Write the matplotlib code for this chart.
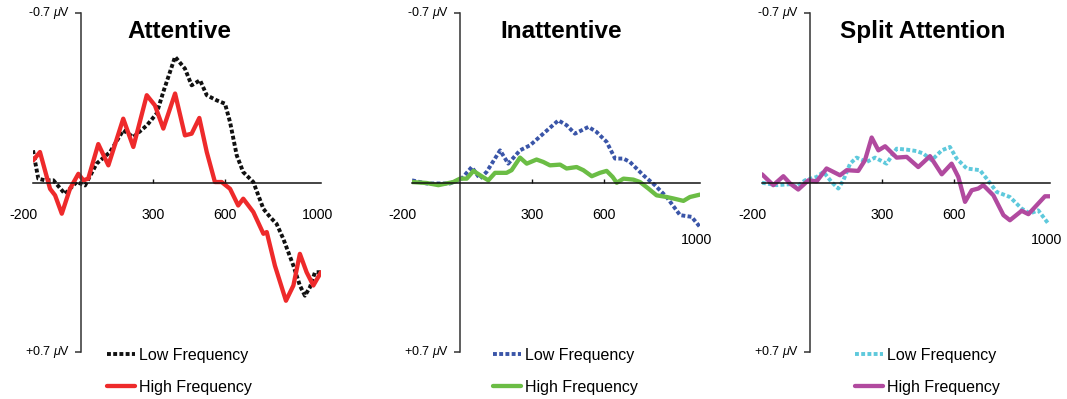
import matplotlib
matplotlib.use("Agg")
import matplotlib.pyplot as plt

plt.rcParams['font.family'] = ['Liberation Sans', 'DejaVu Sans']
plt.rcParams['mathtext.fontset'] = 'custom'
plt.rcParams['mathtext.it'] = 'Liberation Sans:italic'
plt.rcParams['mathtext.rm'] = 'Liberation Sans'

# ERP waveforms, time in ms, amplitude in microvolts (negative up)
att_low_t = [-200, -178, -150, -115, -67, -18, 17, 65, 121, 176, 218, 274, 315, 343, 392, 433, 461, 496,
             524, 565, 600, 621, 649, 676, 718, 760, 788, 815, 843, 885, 912, 933, 954, 975, 1000]
att_low_v = [-0.134, -0.017, -0.01, -0.01, 0.046, -0.003, 0.011, -0.079, -0.127, -0.217, -0.189, -0.237,
             -0.286, -0.376, -0.521, -0.472, -0.403, -0.424, -0.362, -0.341, -0.327, -0.251, -0.113, -0.044,
             -0.003, 0.108, 0.142, 0.17, 0.232, 0.343, 0.425, 0.467, 0.432, 0.37, 0.37]
att_high_t = [-200, -171, -129, -108, -80, -46, -11, 10, 30, 72, 114, 176, 218, 274, 308, 343, 392, 433,
              461, 493, 524, 558, 586, 621, 655, 676, 718, 760, 774, 808, 854, 885, 912, 940, 968, 1000]
att_high_v = [-0.092, -0.127, 0.025, 0.052, 0.128, 0.025, -0.037, -0.01, -0.017, -0.16, -0.072, -0.265,
              -0.148, -0.362, -0.32, -0.224, -0.369, -0.196, -0.203, -0.268, -0.127, -0.003, -0.003, 0.025,
              0.094, 0.066, 0.121, 0.211, 0.204, 0.343, 0.488, 0.425, 0.294, 0.37, 0.425, 0.37]

inatt_low_t = [-200, -139, -42, 7, 49, 83, 111, 167, 201, 250, 292, 347, 410, 444, 479, 535, 569, 611,
               646, 681, 708, 764, 812, 861, 917, 965, 1000]
inatt_low_v = [-0.01, 0.003, 0.003, -0.017, -0.065, -0.017, -0.045, -0.134, -0.079, -0.134, -0.155, -0.203,
               -0.258, -0.238, -0.203, -0.231, -0.21, -0.169, -0.1, -0.1, -0.086, -0.031, 0.01, 0.059,
               0.134, 0.141, 0.183]
inatt_high_t = [-200, -139, -90, -28, 0, 28, 56, 90, 118, 146, 194, 215, 250, 278, 319, 347, 375, 417, 444,
                486, 514, 549, 583, 611, 636, 653, 681, 722, 750, 785, 819, 861, 889, 931, 958, 1000]
inatt_high_v = [-0.003, 0.001, 0.01, -0.003, -0.017, -0.017, -0.049, -0.027, -0.01, -0.041, -0.041, -0.052,
                -0.104, -0.079, -0.096, -0.086, -0.072, -0.075, -0.059, -0.065, -0.052, -0.027, -0.041,
                -0.049, -0.024, 0.0, -0.017, -0.013, -0.003, 0.024, 0.052, 0.059, 0.065, 0.075, 0.059, 0.049]

split_low_t = [-200, -139, -83, -56, -21, 28, 56, 90, 118, 139, 167, 194, 236, 271, 319, 361, 403, 444, 472,
               507, 549, 583, 611, 653, 708, 736, 778, 833, 882, 917, 951, 993]
split_low_v = [0.0, 0.01, 0.006, 0.017, -0.01, -0.024, -0.045, -0.003, 0.024, -0.01, -0.079, -0.104, -0.086,
               -0.104, -0.079, -0.141, -0.137, -0.131, -0.121, -0.093, -0.134, -0.148, -0.1, -0.059, -0.052,
               -0.017, 0.038, 0.059, 0.107, 0.127, 0.114, 0.169]
split_high_t = [-200, -153, -111, -83, -49, -7, 28, 69, 125, 153, 201, 229, 257, 285, 313, 361, 403, 451,
                500, 549, 590, 618, 646, 674, 701, 722, 764, 806, 833, 882, 910, 951, 979, 1000]
split_high_v = [-0.035, 0.01, -0.027, 0.003, 0.028, -0.01, -0.006, -0.059, -0.031, -0.052, -0.049, -0.093,
                -0.187, -0.134, -0.151, -0.104, -0.107, -0.065, -0.11, -0.035, -0.079, -0.024, 0.079, 0.031,
                0.024, 0.01, 0.052, 0.134, 0.155, 0.116, 0.13, 0.086, 0.056, 0.056]

titles = ['Attentive', 'Inattentive', 'Split Attention']
series_labels = ['Low Frequency', 'High Frequency']
tick_values = [-200, 300, 600, 1000]
low_colors = ['#111111', '#3a55a8', '#5ec9dc']
high_colors = ['#ee2a2b', '#6bbd45', '#b14a9f']

panels = [(att_low_t, att_low_v, att_high_t, att_high_v),
          (inatt_low_t, inatt_low_v, inatt_high_t, inatt_high_v),
          (split_low_t, split_low_v, split_high_t, split_high_v)]

W, H = 1067, 399
fig = plt.figure(figsize=(W / 100, H / 100), dpi=100)

yaxis_px = [81, 460, 810]
legend_px = [107, 493, 855]
title_x = [410, 420, 470]
end_label_y = [0.135, 0.235, 0.235]
top_px, bot_px = 13.5, 352

for i, (lt, lv, ht, hv) in enumerate(panels):
    ax = fig.add_axes([(yaxis_px[i] - 48) / W, (H - bot_px) / H, 288 / W, (bot_px - top_px) / H])
    ax.set_xlim(-200, 1000)
    ax.set_ylim(0.7, -0.7)
    ax.patch.set_alpha(0)

    l1, = ax.plot(lt, lv, color=low_colors[i], lw=2.8, linestyle=(0, (1.0, 0.6)),
                  dash_capstyle='butt', solid_joinstyle='round')
    l2, = ax.plot(ht, hv, color=high_colors[i], lw=3.1, solid_capstyle='round',
                  solid_joinstyle='round')

    for s in ['top', 'right']:
        ax.spines[s].set_visible(False)
    ax.spines['left'].set_position(('data', 0))
    ax.spines['bottom'].set_position(('data', 0))
    ax.spines['left'].set_color('#333333')
    ax.spines['left'].set_linewidth(1.1)
    ax.spines['bottom'].set_color('#111111')
    ax.spines['bottom'].set_linewidth(1.1)
    ax.set_xticks([300, 600])
    ax.set_xticklabels([])
    ax.tick_params(axis='x', direction='in', length=3, width=1, color='#111111')
    ax.set_yticks([-0.7, 0.7])
    ax.set_yticklabels([])
    ax.tick_params(axis='y', direction='out', length=4, width=1.1, color='#333333')

    # x tick labels
    for tv in tick_values:
        dx, yy = 0, 0.135
        if tv == -200:
            dx = -40
        if tv == 1000:
            dx, yy = -15, end_label_y[i]
        ax.text(tv + dx, yy, str(tv), ha='center', va='center', fontsize=10.2)

    ax.text(-45, -0.7, r'-0.7 $\mu$V', ha='right', va='center', fontsize=9)
    ax.text(-45, 0.7, r'+0.7 $\mu$V', ha='right', va='center', fontsize=9)

    ax.text(title_x[i], -0.627, titles[i], ha='center', va='center', fontsize=17.5,
            fontweight='bold')

    ax.legend([l1, l2], series_labels, loc='upper left',
              bbox_to_anchor=(legend_px[i] / W, 1 - 348 / H), bbox_transform=fig.transFigure,
              frameon=False, borderpad=0, borderaxespad=0, handlelength=1.75,
              handletextpad=0.25, labelspacing=1.05, fontsize=11.5)

fig.savefig('out.png', dpi=100)
